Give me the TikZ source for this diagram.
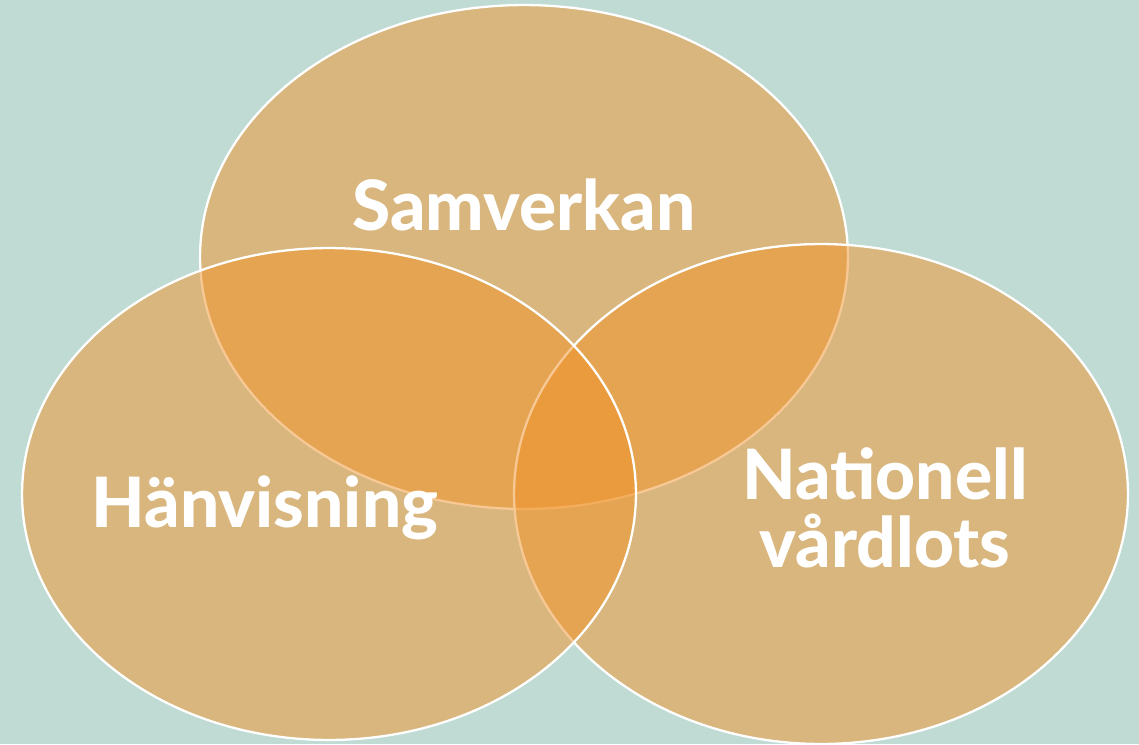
\documentclass[tikz,border=0pt]{standalone}
\usepackage{fontspec}
\setmainfont{Lato}[BoldFont=* Heavy]
\usepackage{tikz}
\usetikzlibrary{positioning}
\definecolor{bgteal}{RGB}{191,219,211}
\definecolor{vennorange}{RGB}{241,147,41}

\begin{document}
\begin{tikzpicture}[x=0.02cm,y=-0.02cm,
  circ/.style={fill=vennorange,fill opacity=0.5,draw=white,draw opacity=1,line width=1.3pt},
  every node/.style={text=white,font=\fontsize{39.5}{38.7}\selectfont\bfseries,align=center,inner sep=0pt}]
  \fill[bgteal] (0,0) rectangle (1139,744);
  \useasboundingbox (0,0) rectangle (1139,744);
  \path[circ] (524,257) ellipse [x radius=6.48cm,y radius=5.04cm];
  \path[circ] (821,494) ellipse [x radius=6.14cm,y radius=5cm];
  \path[circ] (329,494) ellipse [x radius=6.14cm,y radius=4.92cm];
  \node (sam) at (524,205){Samverkan};
  \node (han) at (265,508){Hänvisning};
  \node (nat) at (885,508){Nationell\\vårdlots};
\end{tikzpicture}
\end{document}
